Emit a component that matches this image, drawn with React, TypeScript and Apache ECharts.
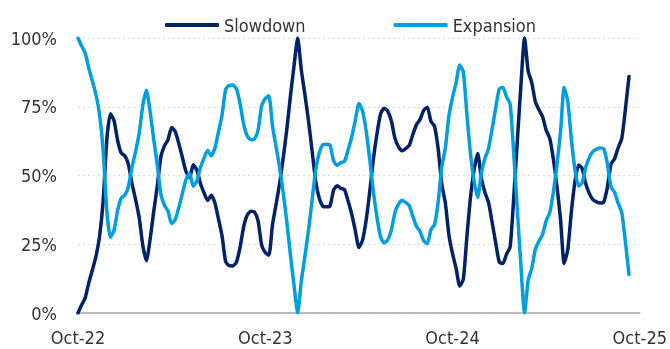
import React, { useEffect, useRef } from "react";
import * as echarts from "echarts";

// Weekly observations starting Oct-22; axis runs to Oct-25 (156 weeks)
const totalWeeks = 157;
const tickLabels = ["Oct-22", "Oct-23", "Oct-24", "Oct-25"];
const weeksPerTick = 52;

const slowdown = [
  0, 2.9, 5.5, 11, 15.7, 20.7, 28, 41, 63, 72.5,
  70, 62.8, 58.2, 57.2, 54, 47, 41.2, 34.6, 24.5, 19,
  26.6, 36.6, 46, 56.7, 60.8, 63, 67.5, 66, 61.6, 56.5,
  51.4, 49.2, 53.9, 52, 47.1, 43.7, 40.9, 42.8, 40.1, 34.2,
  28, 18.7, 17.2, 17.1, 18.5, 23.9, 31.3, 35.6, 37, 36.7,
  33.5, 24.7, 22, 21, 32, 39.5, 47.2, 56.5, 67, 79,
  90, 100, 88.5, 79.5, 70, 59, 48, 41.7, 38.8, 38.6,
  39, 44.8, 46.3, 45.3, 44.9, 40.7, 36, 30, 23.8, 26.4,
  33.6, 44, 55.7, 65, 72.3, 74.5, 73.4, 69.9, 63.6, 60.4,
  59, 59.8, 61, 65, 68.5, 70.4, 73.7, 74.8, 69.7, 67.9,
  59.8, 47, 40.1, 28.4, 21.6, 16.2, 9.8, 12.3, 27.9, 42.2,
  52.2, 58, 49.1, 43.8, 40.2, 33, 25.4, 18.5, 18, 21.4,
  24, 42, 62.7, 83, 100, 88, 83.8, 76.8, 73.9, 71.4,
  66.5, 63.5, 56, 46, 34, 18, 23, 36.8, 47.8, 53.8,
  52.6, 47, 43.4, 41.2, 40.4, 40, 40.4, 45.7, 54.1, 56.1,
  60.1, 63.5, 74, 86,
];

const expansion = [
  100, 97.1, 94.5, 89, 84.3, 79.3, 72, 59, 37, 27.5,
  30, 37.2, 41.8, 42.8, 46, 53, 58.8, 65.4, 75.5, 81,
  73.4, 63.4, 54, 43.3, 39.2, 37, 32.5, 34, 38.4, 43.5,
  48.6, 50.8, 46.1, 48, 52.9, 56.3, 59.1, 57.2, 59.9, 65.8,
  72, 81.3, 82.8, 82.9, 81.5, 76.1, 68.7, 64.4, 63, 63.3,
  66.5, 75.3, 78, 79, 68, 60.5, 52.8, 43.5, 33, 21,
  10, 0, 11.5, 20.5, 30, 41, 52, 58.3, 61.2, 61.4,
  61, 55.2, 53.7, 54.7, 55.1, 59.3, 64, 70, 76.2, 73.6,
  66.4, 56, 44.3, 35, 27.7, 25.5, 26.6, 30.1, 36.4, 39.6,
  41, 40.2, 39, 35, 31.5, 29.6, 26.3, 25.2, 30.3, 32.1,
  40.2, 53, 59.9, 71.6, 78.4, 83.8, 90.2, 87.7, 72.1, 57.8,
  47.8, 42, 50.9, 56.2, 59.8, 67, 74.6, 81.5, 82, 78.6,
  76, 58, 37.3, 17, 0, 12, 16.2, 23.2, 26.1, 28.6,
  33.5, 36.5, 44, 54, 66, 82, 77, 63.2, 52.2, 46.2,
  47.4, 53, 56.6, 58.8, 59.6, 60, 59.6, 54.3, 45.9, 43.9,
  39.9, 36.5, 26, 14,
];

const categories: string[] = [];
{
  const start = new Date(Date.UTC(2022, 9, 1));
  for (let i = 0; i < totalWeeks; i++) {
    const d = new Date(start.getTime() + i * 7 * 86400000);
    categories.push(d.toISOString().slice(0, 10));
  }
}

const FONT = "'DejaVu Sans Condensed', 'Liberation Sans Narrow', sans-serif";
const FS = 18;

export default function App() {
  const ref = useRef<HTMLDivElement>(null);
  useEffect(() => {
    if (!ref.current) return;
    const chart = echarts.init(ref.current, undefined, { renderer: "svg" });
    chart.setOption({
      animation: false,
      textStyle: { fontFamily: FONT },
      legend: {
        left: 160,
        top: 11,
        itemWidth: 54,
        itemHeight: 4,
        itemGap: 88,
        icon: "roundRect",
        textStyle: { fontSize: FS, color: "#333", fontFamily: FONT },
        data: ["Slowdown", "Expansion"],
      },
      grid: { left: 78, right: 30, top: 38, bottom: 36, containLabel: false },
      xAxis: {
        type: "category",
        data: categories,
        boundaryGap: false,
        axisLine: { lineStyle: { color: "#a6a6a6", width: 1.5 } },
        axisTick: { show: false },
        axisLabel: {
          interval: (i: number) => i % weeksPerTick === 0,
          formatter: (_v: string, i: number) => tickLabels[Math.round(i / weeksPerTick)] ?? "",
          fontSize: FS,
          color: "#333",
          margin: 15,
          fontFamily: FONT,
        },
        splitLine: { show: false },
      },
      yAxis: {
        type: "value",
        min: 0,
        max: 100,
        interval: 25,
        axisLine: { show: false },
        axisTick: { show: false },
        axisLabel: {
          formatter: "{value}%",
          fontSize: FS,
          color: "#333",
          margin: 21,
          fontFamily: FONT,
        },
        splitLine: { lineStyle: { color: "#dcdcdc", type: [2, 3], width: 1 } },
      },
      series: [
        {
          name: "Slowdown",
          type: "line",
          data: slowdown,
          showSymbol: false,
          symbol: "none",
          smooth: 0.2,
          lineStyle: { color: "#012169", width: 3.5, cap: "round", join: "round" },
          itemStyle: { color: "#012169" },
          z: 2,
        },
        {
          name: "Expansion",
          type: "line",
          data: expansion,
          showSymbol: false,
          symbol: "none",
          smooth: 0.2,
          lineStyle: { color: "#009fdf", width: 3.5, cap: "round", join: "round" },
          itemStyle: { color: "#009fdf" },
          z: 3,
        },
      ],
    });
    return () => chart.dispose();
  }, []);
  return (
    <div
      ref={ref}
      style={{ position: "fixed", left: 0, top: 0, width: 670, height: 349 }}
    />
  );
}
